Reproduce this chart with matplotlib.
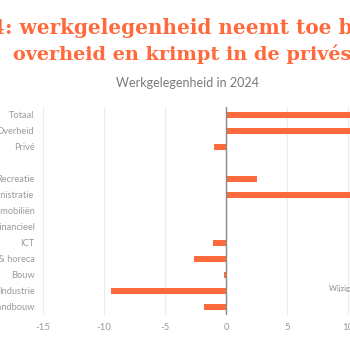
import matplotlib
matplotlib.use("Agg")
import matplotlib.pyplot as plt

categories = ["Totaal", "Overheid", "Privé", "", "Recreatie", "Administratie",
              "Immobiliën", "Financieel", "ICT", "Handel & horeca", "Bouw",
              "Industrie", "Landbouw"]
values = [14.0, 14.0, -1.0, 0.0, 2.5, 14.0, 0.0, 0.0, -1.1, -2.65, -0.15, -9.4, -1.8]
xticks = [-15, -10, -5, 0, 5, 10, 15]

ORANGE = "#ff6a3d"
W, H = 350, 350
fig = plt.figure(figsize=(3.5, 3.5), dpi=100)
fig.patch.set_facecolor("white")

# axes in pixel geometry: x=-15 at px 43, 12.2 px/unit
left_px, right_px = 43, 43 + 30 * 12.2
top_px, bot_px = 107, 315
ax = fig.add_axes([left_px / W, 1 - bot_px / H, (right_px - left_px) / W, (bot_px - top_px) / H])
ax.set_xlim(-15, 15)
ax.set_ylim(len(categories) - 0.5, -0.5)

ypos = list(range(len(categories)))
ax.barh(ypos, values, height=0.33, color=ORANGE, zorder=3)
ax.axvline(0, color="#8a8a8a", lw=1.0, zorder=4)

ax.set_xticks(xticks)
ax.set_xticklabels([str(t) for t in xticks])
ax.set_yticks(ypos)
ax.set_yticklabels(categories)
ax.grid(axis="x", color="#ececec", lw=0.8, zorder=0)
ax.grid(axis="y", visible=False)
for s in ax.spines.values():
    s.set_visible(False)
ax.tick_params(axis="both", length=0, colors="#9a9a9a")
ax.tick_params(axis="x", labelsize=7, pad=6)
ax.tick_params(axis="y", labelsize=6.7, pad=6)
for lab in ax.get_xticklabels() + ax.get_yticklabels():
    lab.set_fontfamily("Lato")

ax.text(8.45, 10.85, "Wijziging (%)", fontsize=5.5, color="#8a8a8a",
        family="Lato", ha="left", va="center")

fig.text(-9 / W, 1 - 34.5 / H, "4: werkgelegenheid neemt toe bij de",
         fontsize=14.4, fontweight="bold", family="DejaVu Serif", color=ORANGE,
         ha="left", va="baseline")
fig.text(13 / W, 1 - 59.5 / H, "overheid en krimpt in de privésector",
         fontsize=13.9, fontweight="bold", family="DejaVu Serif", color=ORANGE,
         ha="left", va="baseline")
fig.text(187.5 / W, 1 - 87 / H, "Werkgelegenheid in 2024", fontsize=9,
         family="Lato", color="#7a7a7a", ha="center", va="baseline")

fig.savefig("out.png", dpi=100)
